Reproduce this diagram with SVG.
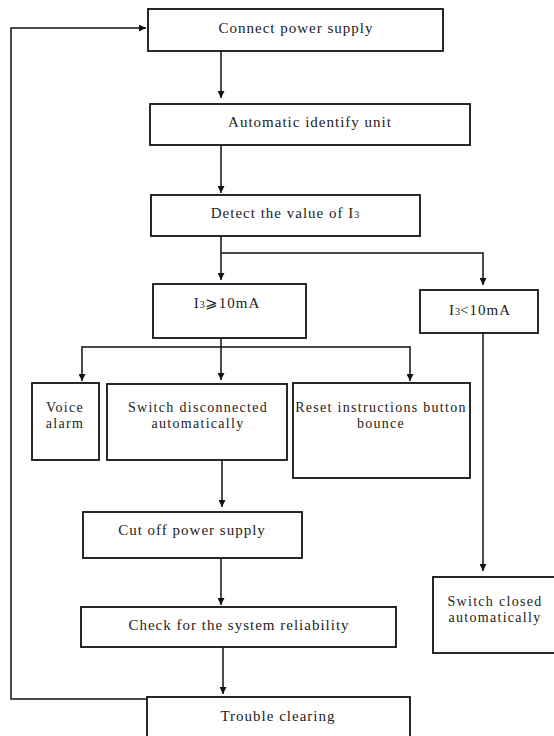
<svg xmlns="http://www.w3.org/2000/svg" width="554" height="736" viewBox="0 0 554 736">
<defs>
<style>
.box{fill:#fff;stroke:#111;stroke-width:1.8}
text{font-family:'Liberation Serif','Times New Roman',serif;font-size:15px;letter-spacing:1px;fill:#222;text-anchor:middle}
.m{font-size:14px;letter-spacing:1.3px}
.sub{font-size:10px;letter-spacing:0}
.ln{fill:none;stroke:#111;stroke-width:1.5}
</style>
<marker id="ah" viewBox="0 0 10 10" refX="10" refY="5" markerWidth="7" markerHeight="7" markerUnits="userSpaceOnUse" orient="auto">
<path d="M0,0 L10,5 L0,10 z" fill="#111"/>
</marker>
</defs>
<rect width="554" height="736" fill="#fff"/>
<g id="connectors">
<path class="ln" d="M221,51 V98" marker-end="url(#ah)"/>
<path class="ln" d="M221,145 V193" marker-end="url(#ah)"/>
<path class="ln" d="M221,236 V280" marker-end="url(#ah)"/>
<path class="ln" d="M221,253 H483 V285" marker-end="url(#ah)"/>
<path class="ln" d="M221,338 V380" marker-end="url(#ah)"/>
<path class="ln" d="M221,347 H82 V381" marker-end="url(#ah)"/>
<path class="ln" d="M221,347 H410 V381" marker-end="url(#ah)"/>
<path class="ln" d="M483,333 V571" marker-end="url(#ah)"/>
<path class="ln" d="M222,460 V507" marker-end="url(#ah)"/>
<path class="ln" d="M221,558 V605" marker-end="url(#ah)"/>
<path class="ln" d="M223,647 V694" marker-end="url(#ah)"/>
<path class="ln" d="M147,699 H11 V28 H146" marker-end="url(#ah)"/>
</g>
<g id="connect">
<rect class="box" x="148" y="9" width="295" height="42"/>
<text x="296" y="33">Connect power supply</text>
</g>
<g id="identify">
<rect class="box" x="150" y="104" width="320" height="41"/>
<text x="310" y="127">Automatic identify unit</text>
</g>
<g id="detect">
<rect class="box" x="151" y="195" width="269" height="41"/>
<text x="285" y="218">Detect the value of I<tspan class="sub">3</tspan></text>
</g>
<g id="ge10">
<rect class="box" x="153" y="284" width="153" height="54"/>
<text x="227" y="308">I<tspan class="sub">3</tspan>⩾10mA</text>
</g>
<g id="lt10">
<rect class="box" x="420" y="290" width="118" height="43"/>
<text x="480" y="315">I<tspan class="sub">3</tspan>&lt;10mA</text>
</g>
<g id="voice">
<rect class="box" x="32" y="383" width="67" height="77"/>
<text class="m" x="65" y="412">Voice</text>
<text class="m" x="65" y="428">alarm</text>
</g>
<g id="switchdisc">
<rect class="box" x="107" y="384" width="180" height="76"/>
<text class="m" x="198" y="412">Switch disconnected</text>
<text class="m" x="198" y="428">automatically</text>
</g>
<g id="reset">
<rect class="box" x="293" y="383" width="177" height="95"/>
<text class="m" x="381" y="412">Reset instructions button</text>
<text class="m" x="381" y="428">bounce</text>
</g>
<g id="cutoff">
<rect class="box" x="83" y="512" width="219" height="46"/>
<text x="192" y="535">Cut off power supply</text>
</g>
<g id="check">
<rect class="box" x="81" y="607" width="315" height="40"/>
<text x="239" y="630">Check for the system reliability</text>
</g>
<g id="trouble">
<rect class="box" x="147" y="697" width="263" height="50"/>
<text x="278" y="721">Trouble clearing</text>
</g>
<g id="switchclosed">
<rect class="box" x="433" y="577" width="130" height="76"/>
<text class="m" x="495" y="606">Switch closed</text>
<text class="m" x="495" y="622">automatically</text>
</g>
</svg>
